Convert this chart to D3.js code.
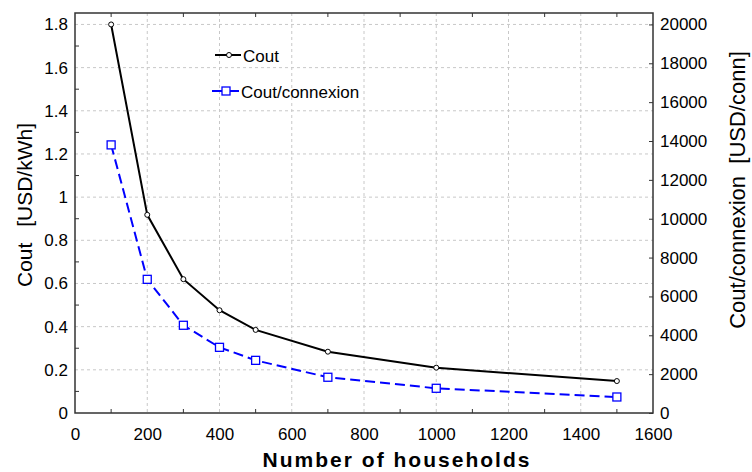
<!DOCTYPE html>
<html><head><meta charset="utf-8">
<script src="https://d3js.org/d3.v7.min.js"></script>
<style>body{margin:0;background:#fff}svg{display:block}text{font-family:"Liberation Sans",Arial,sans-serif;white-space:pre}</style>
</head><body>
<svg id="c" width="752" height="472"></svg>
<script>
const households = [100, 200, 300, 400, 500, 700, 1000, 1500];
const cout = [1.8, 0.918, 0.62, 0.476, 0.385, 0.284, 0.21, 0.148];
const coutConnexion = [13800, 6880, 4515, 3380, 2710, 1840, 1272, 824];
const xTicks = [0, 200, 400, 600, 800, 1000, 1200, 1400, 1600];
const yLeftTicks = [0, 0.2, 0.4, 0.6, 0.8, 1, 1.2, 1.4, 1.6, 1.8];
const yRightTicks = [0, 2000, 4000, 6000, 8000, 10000, 12000, 14000, 16000, 18000, 20000];

const svg = d3.select("#c");
const L = 75, R = 653, T = 13, B = 413;
const FF = '"Liberation Sans",Arial,sans-serif';
const x = d3.scaleLinear().domain([0, 1600]).range([L, R]);
const yl = d3.scaleLinear().domain([0, 1.853]).range([B, T]);
const yr = d3.scaleLinear().domain([0, 1.853 / 1.8 * 20000]).range([B, T]);

const g = svg.append("g");
// grid
g.selectAll(".gx").data(xTicks.slice(1, -1)).enter().append("line")
  .attr("x1", d => x(d)).attr("x2", d => x(d)).attr("y1", T).attr("y2", B)
  .attr("stroke", "#c8c8c8").attr("stroke-dasharray", "3,3");
g.selectAll(".gy").data(yLeftTicks.slice(1)).enter().append("line")
  .attr("x1", L).attr("x2", R).attr("y1", d => yl(d)).attr("y2", d => yl(d))
  .attr("stroke", "#c8c8c8").attr("stroke-dasharray", "3,3");

// minor ticks (inward)
const minorX = d3.range(100, 1600, 200);
g.selectAll(".mxb").data(minorX).enter().append("line")
  .attr("x1", d => x(d)).attr("x2", d => x(d)).attr("y1", B).attr("y2", B - 4).attr("stroke", "#333");
g.selectAll(".mxt").data(minorX).enter().append("line")
  .attr("x1", d => x(d)).attr("x2", d => x(d)).attr("y1", T).attr("y2", T + 4).attr("stroke", "#333");
const minorY = d3.range(0.1, 1.85, 0.2);
g.selectAll(".myl").data(minorY).enter().append("line")
  .attr("x1", L).attr("x2", L + 4).attr("y1", d => yl(d)).attr("y2", d => yl(d)).attr("stroke", "#333");

// axes
const styleText = sel => sel.selectAll("text").attr("font-size", 17).attr("fill", "#000").style("font-family", FF);
const ax = d3.axisBottom(x).tickValues(xTicks).tickFormat(d3.format("d")).tickSize(0).tickPadding(15);
svg.append("g").attr("transform", `translate(0,${B})`).call(ax)
  .call(a => a.select(".domain").remove()).call(styleText);
const ayl = d3.axisLeft(yl).tickValues(yLeftTicks).tickFormat(d => d3.format("~g")(d)).tickSize(0).tickPadding(7);
svg.append("g").attr("transform", `translate(${L},0)`).call(ayl)
  .call(a => a.select(".domain").remove()).call(styleText);
const ayr = d3.axisRight(yr).tickValues(yRightTicks).tickFormat(d3.format("d")).tickSize(-4).tickPadding(7);
svg.append("g").attr("transform", `translate(${R},0)`).call(ayr)
  .call(a => a.select(".domain").remove())
  .call(a => a.selectAll("line").attr("stroke", "#333"))
  .call(styleText);

// frame
svg.append("rect").attr("x", L).attr("y", T).attr("width", R - L).attr("height", B - T)
  .attr("fill", "none").attr("stroke", "#333").attr("stroke-width", 1.5);

// series
const d1 = households.map((h, i) => [h, cout[i]]);
const d2 = households.map((h, i) => [h, coutConnexion[i]]);
svg.append("path").datum(d1).attr("fill", "none").attr("stroke", "#000").attr("stroke-width", 2)
  .attr("d", d3.line().x(d => x(d[0])).y(d => yl(d[1])));
svg.append("path").datum(d2).attr("fill", "none").attr("stroke", "#0000ff").attr("stroke-width", 2)
  .attr("stroke-dasharray", "10,5")
  .attr("d", d3.line().x(d => x(d[0])).y(d => yr(d[1])));
svg.selectAll(".m1").data(d1).enter().append("circle")
  .attr("cx", d => x(d[0])).attr("cy", d => yl(d[1])).attr("r", 2.5)
  .attr("fill", "#fff").attr("stroke", "#000").attr("stroke-width", 1);
svg.selectAll(".m2").data(d2).enter().append("rect")
  .attr("x", d => x(d[0]) - 4).attr("y", d => yr(d[1]) - 4).attr("width", 8).attr("height", 8)
  .attr("fill", "#fff").attr("stroke", "#0000ff").attr("stroke-width", 1.3);

// legend
const lg = svg.append("g");
lg.append("line").attr("x1", 215).attr("x2", 241).attr("y1", 55).attr("y2", 55).attr("stroke", "#000").attr("stroke-width", 2);
lg.append("circle").attr("cx", 229).attr("cy", 55).attr("r", 2.5).attr("fill", "#fff").attr("stroke", "#000");
lg.append("text").attr("x", 243).attr("y", 62).attr("font-size", 17).text("Cout");
lg.append("line").attr("x1", 212).attr("x2", 239).attr("y1", 91).attr("y2", 91).attr("stroke", "#0000ff").attr("stroke-width", 2);
lg.append("rect").attr("x", 222).attr("y", 87).attr("width", 8).attr("height", 8).attr("fill", "#fff").attr("stroke", "#0000ff").attr("stroke-width", 1.3);
lg.append("text").attr("x", 241).attr("y", 98).attr("font-size", 17).text("Cout/connexion");

// titles
svg.append("text").attr("transform", "translate(32,287) rotate(-90)").attr("text-anchor", "start")
  .attr("font-size", 21).text("Cout");
svg.append("text").attr("transform", "translate(32,123) rotate(-90)").attr("text-anchor", "end")
  .attr("font-size", 21).text("[USD/kWh]");
svg.append("text").attr("transform", "translate(745,190) rotate(-90)").attr("text-anchor", "middle")
  .attr("font-size", 22).text("Cout/connexion  [USD/conn]");
svg.append("text").attr("x", 396).attr("y", 467).attr("text-anchor", "middle")
  .attr("font-size", 21).attr("font-weight", "bold").attr("textLength", 267).attr("lengthAdjust", "spacing")
  .text("Number of households");
</script>
</body></html>
